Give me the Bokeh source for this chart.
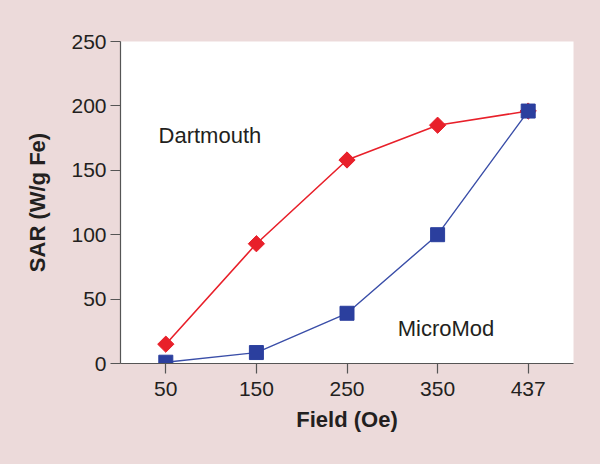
from bokeh.plotting import figure
from bokeh.models import Range1d, FixedTicker, ColumnDataSource, Label
from bokeh.embed import file_html
from bokeh.resources import INLINE
from math import pi

# ---- data ----
fields = ["50", "150", "250", "350", "437"]
dartmouth = [15, 93, 158, 185, 196]
micromod = [1, 8.5, 39, 100, 196]
y_ticks = [0, 50, 100, 150, 200, 250]

xs = [i + 0.5 for i in range(len(fields))]

PINK = "#ecdada"
RED = "#e8202a"
BLUE = "#2b3f9e"
TXT = "#231f20"
FONT = "Liberation Sans"

p = figure(width=600, height=464, output_backend="svg", toolbar_location=None,
           x_range=Range1d(0, len(fields)), y_range=Range1d(0, 250),
           min_border_left=120, min_border_right=27, min_border_top=41, min_border_bottom=101)
p.background_fill_color = "white"
p.border_fill_color = PINK
p.outline_line_color = None
p.xgrid.visible = False
p.ygrid.visible = False

src_d = ColumnDataSource(dict(x=xs, y=dartmouth))
src_m = ColumnDataSource(dict(x=xs, y=micromod))

p.line("x", "y", source=src_d, line_color=RED, line_width=1.6)
p.scatter("x", "y", source=src_d, marker="square", angle=pi / 4, size=11.5,
          fill_color=RED, line_color=RED)
p.line("x", "y", source=src_m, line_color="#3a4ea8", line_width=1.4)
p.scatter("x", "y", source=src_m, marker="square", size=14,
          fill_color=BLUE, line_color=BLUE)

for ax in (p.xaxis[0], p.yaxis[0]):
    ax.axis_line_color = "#555555"
    ax.axis_line_width = 1.2
    ax.major_tick_line_color = "#555555"
    ax.major_tick_line_width = 1.2
    ax.major_tick_out = 10
    ax.major_tick_in = 0
    ax.minor_tick_line_color = None
    ax.major_label_text_font = FONT
    ax.major_label_text_font_size = "21px"
    ax.major_label_text_color = TXT
    ax.axis_label_text_font = FONT
    ax.axis_label_text_font_size = "22px"
    ax.axis_label_text_font_style = "bold"
    ax.axis_label_text_color = TXT

p.xaxis.ticker = FixedTicker(ticks=xs)
p.xaxis.major_label_overrides = {x: f for x, f in zip(xs, fields)}
p.xaxis.major_label_standoff = 8
p.xaxis.axis_label = "Field (Oe)"
p.xaxis.axis_label_standoff = 8

p.yaxis.ticker = FixedTicker(ticks=y_ticks)
p.yaxis.major_label_standoff = 4
p.yaxis.axis_label = "SAR (W/g Fe)"
p.yaxis.axis_label_standoff = 18

p.add_layout(Label(x=0.42, y=177, text="Dartmouth", text_font=FONT,
                   text_font_size="22px", text_color=TXT, text_baseline="alphabetic"))
p.add_layout(Label(x=3.06, y=27, text="MicroMod", text_font=FONT,
                   text_font_size="22px", text_color=TXT, text_baseline="alphabetic"))

html = file_html(p, INLINE)
style = "<style>html,body{margin:0;padding:0;background-color:%s;overflow:hidden;}</style>" % PINK
html = html.replace("</head>", style + "</head>", 1)
open("out.html", "w").write(html)
